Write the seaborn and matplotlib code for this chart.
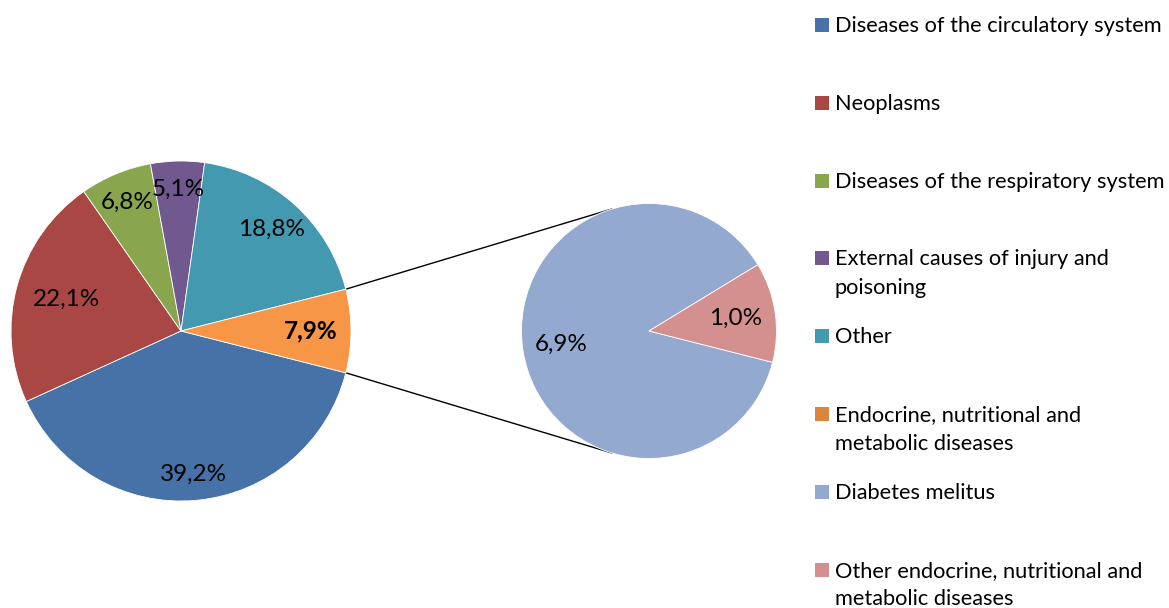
import numpy as np
import matplotlib.pyplot as plt
import seaborn as sns
from matplotlib.patches import Rectangle

# data
categories = ["Diseases of the circulatory system", "Neoplasms",
              "Diseases of the respiratory system",
              "External causes of injury and\npoisoning", "Other",
              "Endocrine, nutritional and\nmetabolic diseases"]
shares = [39.2, 22.1, 6.8, 5.1, 18.8, 7.9]
sub_categories = ["Diabetes melitus",
                  "Other endocrine, nutritional and\nmetabolic diseases"]
sub_shares = [6.9, 1.0]

main_colors = ["#4672A8", "#A84744", "#89A54E", "#71598F", "#4299B0", "#F79646"]
sub_colors = ["#94A9D0", "#D4908F"]
legend_colors = main_colors[:5] + ["#DB843D"] + sub_colors

sns.set_style("white")
plt.rcParams['font.family'] = ['Lato', 'DejaVu Sans']

W, H = 1169, 608
fig = plt.figure(figsize=(W / 100, H / 100), dpi=100)
ax = fig.add_axes([0, 0, 1, 1])


def fmt(v):
    return f"{v:.1f}%".replace(".", ",")


c1, r1 = (181, H - 331), 170
c2, r2 = (649, H - 331), 127.5

# orange slice centred on the right-hand side
start = 360 - shares[-1] / sum(shares) * 180
edge = dict(edgecolor='white', linewidth=0.6)

w1, _ = ax.pie(shares, colors=main_colors, startangle=start, counterclock=False,
               center=c1, radius=r1, wedgeprops=edge)
w2, _ = ax.pie(sub_shares, colors=sub_colors, startangle=start, counterclock=False,
               center=c2, radius=r2, wedgeprops=edge)

label_r1 = [0.845, 0.70, 0.82, 0.835, 0.80, 0.76]
label_r2 = [0.70, 0.69]


def put_labels(wedges, values, center, radius, factors, bold_last=False):
    for i, (w, v) in enumerate(zip(wedges, values)):
        a = np.deg2rad((w.theta1 + w.theta2) / 2)
        x = center[0] + radius * factors[i] * np.cos(a)
        y = center[1] + radius * factors[i] * np.sin(a)
        weight = 'bold' if (bold_last and i == len(values) - 1) else 'normal'
        ax.text(x, y, fmt(v), ha='center', va='center', fontsize=17.5,
                fontweight=weight, color='black')


put_labels(w1, shares, c1, r1, label_r1, bold_last=True)
put_labels(w2, sub_shares, c2, r2, label_r2)

# connector lines from the orange slice to the second pie
ow = w1[-1]
for t_main, t_sub in [(ow.theta2, 107), (ow.theta1, 253)]:
    a, b = np.deg2rad(t_main), np.deg2rad(t_sub)
    ax.plot([c1[0] + r1 * np.cos(a), c2[0] + r2 * np.cos(b)],
            [c1[1] + r1 * np.sin(a), c2[1] + r2 * np.sin(b)],
            color='black', lw=1.0, zorder=0.5)

# legend
legend_labels = categories + sub_categories
for i, (lab, col) in enumerate(zip(legend_labels, legend_colors)):
    cy = 25 + i * 77.8
    ax.add_patch(Rectangle((815, H - cy - 7), 14, 14, color=col, lw=0))
    for k, line in enumerate(lab.split("\n")):
        ax.text(835, H - (cy + 7 + k * 28.5), line, ha='left', va='baseline',
                fontsize=15.7, color='black')

ax.set_xlim(0, W)
ax.set_ylim(0, H)
ax.set_aspect('equal')
ax.axis('off')

fig.savefig('out.png', dpi=100)
plt.close()
